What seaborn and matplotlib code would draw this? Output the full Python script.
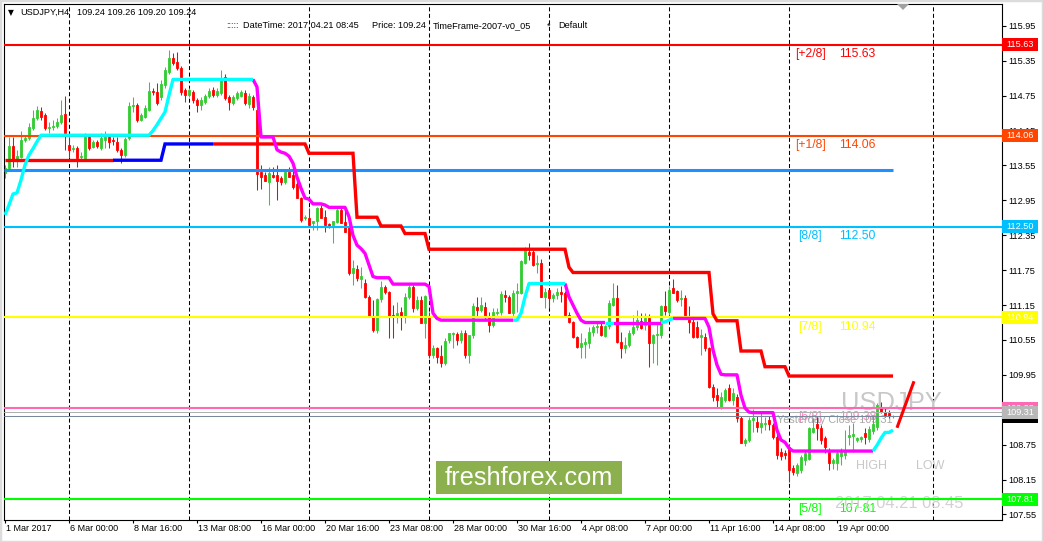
import numpy as np
import matplotlib
matplotlib.use("Agg")
import matplotlib.pyplot as plt
import seaborn as sns
from matplotlib.patches import Rectangle, Polygon
from matplotlib.transforms import blended_transform_factory, ScaledTranslation

# ---------------- data ----------------
first_bar = -16  # bar index of 1 Mar 2017 08:00 (bar 0 = 6 Mar 00:00, H4)

opens = [
    113.42, 113.51, 113.88, 113.64, 113.70, 113.99, 114.02, 114.19, 114.37, 114.49,
    114.42, 114.19, 114.21, 114.23, 114.30, 114.43, 113.90, 113.83, 113.85, 113.70,
    113.68, 114.04, 113.87, 113.95, 113.85, 113.99, 114.04, 113.99, 113.95, 113.82,
    113.73, 114.02, 114.57, 114.59, 114.33, 114.38, 114.50, 114.83, 114.81, 114.73,
    114.93, 115.16, 115.40, 115.33, 115.23, 114.85, 114.76, 114.81, 114.68, 114.59,
    114.64, 114.74, 114.85, 114.76, 114.80, 115.07, 114.73, 114.62, 114.71, 114.74,
    114.80, 114.61, 114.73, 114.50, 113.44, 113.39, 113.26, 113.39, 113.39, 113.33,
    113.26, 113.44, 113.39, 113.23, 112.99, 112.65, 112.65, 112.56, 112.60, 112.82,
    112.66, 112.54, 112.53, 112.58, 112.78, 112.58, 112.49, 111.70, 111.77, 111.60,
    111.53, 111.29, 110.94, 110.72, 111.25, 111.46, 111.37, 110.98, 110.94, 111.03,
    110.94, 111.29, 111.46, 111.10, 111.24, 110.84, 110.94, 110.29, 110.41, 110.27,
    110.15, 110.55, 110.65, 110.65, 110.55, 110.67, 110.29, 110.63, 111.12, 111.06,
    111.12, 110.96, 110.81, 111.01, 111.03, 111.32, 111.29, 111.01, 111.36, 111.36,
    111.87, 112.06, 112.06, 111.85, 111.87, 111.29, 111.41, 111.27, 111.32, 111.37,
    111.36, 110.98, 110.86, 110.60, 110.43, 110.48, 110.50, 110.69, 110.77, 110.79,
    110.62, 110.79, 111.15, 111.27, 110.51, 110.41, 110.46, 110.67, 110.77, 110.87,
    110.81, 110.92, 110.50, 110.63, 110.63, 111.13, 111.03, 111.44, 111.39, 111.25,
    111.27, 110.92, 110.86, 110.77, 110.60, 110.60, 110.41, 109.74, 109.60, 109.40,
    109.52, 109.72, 109.52, 109.57, 109.21, 108.78, 108.83, 109.17, 109.14, 109.05,
    109.10, 109.17, 109.08, 108.88, 108.62, 108.60, 108.71, 108.35, 108.26, 108.31,
    108.48, 108.51, 108.97, 109.10, 109.03, 108.86, 108.62, 108.43, 108.43, 108.55,
    108.57, 108.88, 108.90, 108.83, 108.84, 108.95, 108.84, 108.98, 109.05, 109.40,
    109.31, 109.29, 109.24,
]
highs = [
    113.56, 114.04, 114.04, 113.82, 114.14, 114.07, 114.28, 114.50, 114.57, 114.56,
    114.45, 114.30, 114.33, 114.37, 114.68, 114.74, 114.04, 113.90, 113.88, 113.78,
    114.11, 114.09, 113.99, 113.99, 114.11, 114.14, 114.09, 114.04, 114.04, 113.85,
    114.04, 114.64, 114.73, 114.62, 114.45, 114.59, 114.99, 114.88, 114.97, 115.02,
    115.24, 115.54, 115.48, 115.50, 115.26, 114.88, 114.88, 114.85, 114.71, 114.73,
    114.78, 114.88, 114.90, 114.88, 115.19, 115.12, 114.76, 114.76, 114.83, 114.85,
    114.85, 114.80, 114.76, 114.54, 113.56, 113.44, 113.52, 113.52, 113.56, 113.37,
    113.47, 113.52, 113.52, 113.28, 113.00, 112.70, 112.82, 112.60, 112.84, 112.87,
    112.78, 112.56, 112.58, 112.85, 112.82, 112.78, 112.53, 111.92, 111.84, 111.80,
    111.60, 111.32, 111.24, 111.27, 111.56, 111.50, 111.40, 111.15, 111.20, 111.12,
    111.36, 111.50, 111.50, 111.30, 111.30, 111.32, 111.03, 110.46, 110.43, 110.46,
    110.58, 110.67, 110.69, 110.69, 110.72, 110.72, 110.63, 111.18, 111.29, 111.29,
    111.20, 111.03, 111.10, 111.10, 111.40, 111.41, 111.32, 111.41, 111.53, 111.92,
    112.15, 112.22, 112.10, 112.01, 111.95, 111.44, 111.41, 111.35, 111.44, 111.48,
    111.40, 111.03, 110.87, 110.62, 110.67, 110.58, 110.77, 110.81, 110.87, 110.87,
    110.81, 111.24, 111.53, 111.50, 110.69, 110.60, 110.72, 110.98, 111.06, 111.01,
    111.01, 111.00, 110.65, 110.86, 111.15, 111.40, 111.48, 111.60, 111.41, 111.41,
    111.32, 111.13, 110.92, 110.87, 110.74, 110.67, 110.43, 109.80, 109.72, 109.65,
    109.72, 109.80, 109.72, 109.62, 109.24, 108.86, 109.22, 109.36, 109.24, 109.29,
    109.22, 109.24, 109.12, 108.95, 108.70, 108.66, 108.76, 108.40, 108.43, 108.57,
    108.66, 109.05, 109.20, 109.22, 109.08, 108.90, 108.70, 108.52, 108.66, 108.70,
    109.00, 109.08, 109.12, 108.88, 108.90, 109.03, 109.07, 109.24, 109.46, 109.48,
    109.40, 109.34, 109.26,
]
lows = [
    113.33, 113.47, 113.52, 113.52, 113.68, 113.95, 113.99, 114.16, 114.33, 114.33,
    114.16, 114.11, 114.16, 114.19, 114.26, 113.82, 113.70, 113.78, 113.52, 113.64,
    113.66, 113.82, 113.85, 113.85, 113.82, 113.85, 113.85, 113.90, 113.78, 113.59,
    113.70, 113.99, 114.47, 114.30, 114.31, 114.37, 114.49, 114.76, 114.59, 114.68,
    114.88, 115.12, 115.28, 115.19, 114.76, 114.64, 114.73, 114.62, 114.47, 114.50,
    114.61, 114.71, 114.73, 114.73, 114.76, 114.68, 114.50, 114.59, 114.68, 114.73,
    114.59, 114.54, 114.50, 113.13, 113.14, 113.28, 112.87, 113.33, 112.96, 113.21,
    113.23, 113.35, 113.14, 112.99, 112.58, 112.61, 112.53, 112.44, 112.44, 112.65,
    112.40, 112.47, 112.22, 112.56, 112.56, 112.40, 111.67, 111.50, 111.56, 111.44,
    111.27, 110.94, 110.69, 110.67, 111.20, 111.34, 110.58, 110.58, 110.84, 110.72,
    110.84, 111.25, 111.03, 111.06, 110.84, 110.58, 110.24, 110.24, 110.15, 110.08,
    110.12, 110.50, 110.41, 110.46, 110.50, 110.24, 110.15, 110.58, 110.94, 111.03,
    110.87, 110.69, 110.77, 110.98, 110.98, 111.20, 111.01, 110.96, 111.03, 111.34,
    111.85, 111.92, 111.82, 111.70, 111.29, 111.10, 111.10, 111.20, 111.25, 111.20,
    110.96, 110.84, 110.58, 110.41, 110.24, 110.24, 110.41, 110.62, 110.67, 110.62,
    110.60, 110.74, 111.13, 110.50, 110.24, 110.32, 110.43, 110.63, 110.72, 110.74,
    110.72, 110.08, 110.15, 110.12, 110.58, 110.98, 110.98, 111.36, 111.20, 111.13,
    110.92, 110.67, 110.58, 110.58, 110.29, 110.36, 109.72, 109.50, 109.40, 109.36,
    109.48, 109.50, 109.43, 109.14, 108.78, 108.72, 108.80, 108.97, 108.97, 108.95,
    109.00, 109.00, 108.84, 108.50, 108.48, 108.50, 108.10, 108.22, 108.21, 108.26,
    108.40, 108.48, 108.95, 108.83, 108.76, 108.60, 108.31, 108.33, 108.31, 108.40,
    108.50, 108.74, 108.62, 108.80, 108.80, 108.76, 108.80, 108.93, 109.00, 109.29,
    109.22, 109.20, 109.20,
]
closes = [
    113.51, 113.88, 113.64, 113.71, 113.99, 114.02, 114.21, 114.37, 114.50, 114.38,
    114.19, 114.21, 114.23, 114.30, 114.42, 114.07, 113.82, 113.85, 113.68, 113.71,
    114.04, 113.85, 113.95, 113.88, 114.02, 114.04, 113.95, 113.97, 113.82, 113.73,
    114.00, 114.57, 114.59, 114.33, 114.42, 114.54, 114.83, 114.81, 114.62, 114.95,
    115.19, 115.40, 115.31, 115.23, 114.81, 114.76, 114.85, 114.68, 114.59, 114.68,
    114.74, 114.83, 114.76, 114.83, 115.05, 114.71, 114.64, 114.73, 114.80, 114.81,
    114.62, 114.74, 114.56, 113.40, 113.35, 113.28, 113.42, 113.35, 113.28, 113.26,
    113.44, 113.35, 113.18, 112.99, 112.61, 112.66, 112.53, 112.60, 112.82, 112.65,
    112.53, 112.49, 112.60, 112.78, 112.56, 112.40, 111.70, 111.79, 111.61, 111.65,
    111.29, 110.94, 110.72, 111.25, 111.46, 111.37, 110.94, 110.94, 111.01, 110.94,
    111.29, 111.46, 111.10, 111.24, 110.84, 111.30, 110.29, 110.41, 110.25, 110.15,
    110.53, 110.67, 110.67, 110.55, 110.67, 110.29, 110.63, 111.13, 111.06, 111.15,
    110.94, 110.81, 111.03, 111.03, 111.34, 111.29, 111.01, 111.36, 111.39, 111.91,
    112.10, 112.01, 111.84, 111.87, 111.29, 111.37, 111.27, 111.32, 111.37, 111.34,
    110.98, 110.86, 110.60, 110.43, 110.50, 110.51, 110.69, 110.77, 110.79, 110.63,
    110.79, 111.18, 111.27, 110.51, 110.41, 110.46, 110.67, 110.77, 110.90, 110.75,
    110.92, 110.50, 110.63, 110.65, 111.13, 111.04, 111.41, 111.36, 111.24, 111.27,
    110.92, 110.86, 110.60, 110.60, 110.63, 110.41, 109.74, 109.57, 109.52, 109.57,
    109.69, 109.52, 109.64, 109.21, 108.78, 108.83, 109.17, 109.21, 109.05, 109.12,
    109.12, 109.10, 108.88, 108.57, 108.55, 108.57, 108.31, 108.28, 108.40, 108.53,
    108.60, 109.03, 109.03, 109.03, 108.83, 108.71, 108.43, 108.48, 108.60, 108.62,
    108.66, 108.91, 108.93, 108.86, 108.88, 108.88, 109.02, 109.10, 109.43, 109.31,
    109.26, 109.24, 109.24,
]

# upper trailing line (step levels and the bar where each level starts)
upper_step_bars = [-16, 24, 60, 72, 78, 84, 90, 125, 126, 161, 162, 168, 174, 180]
upper_step_levels = [113.64, 113.92, 113.76, 112.66, 112.51, 112.38, 112.11,
                     111.80, 111.71, 111.00, 110.88, 110.36, 110.09, 109.93]
upper_blue_span = (11, 36)

# lower trailing line, one value per bar
lower_line = [
    112.70, 112.87, 113.06, 113.08, 113.30, 113.56, 113.73, 113.84, 113.96,
    114.07, 114.07, 114.07, 114.07, 114.07, 114.07, 114.07, 114.07, 114.07, 114.07,
    114.07, 114.07, 114.07, 114.07, 114.07, 114.07, 114.07, 114.07, 114.07, 114.07,
    114.07, 114.07, 114.07, 114.07, 114.07, 114.07, 114.07, 114.07,
    114.15, 114.25, 114.36, 114.47, 114.76,
    115.03, 115.03, 115.03, 115.03, 115.03, 115.03, 115.03, 115.03, 115.03, 115.03,
    115.03, 115.03, 115.03, 115.03, 115.03, 115.03, 115.03, 115.03, 115.03, 115.03,
    115.03,
    114.90,
    114.04, 114.04, 114.04, 114.04,
    113.82, 113.78, 113.76, 113.71, 113.59, 113.35, 113.16, 112.99, 112.97,
    112.89, 112.89, 112.89,
    112.87,
    112.83, 112.83, 112.83, 112.83, 112.83,
    112.67, 112.35, 112.18, 112.12, 112.04, 111.84, 111.64,
    111.62, 111.62, 111.62, 111.62,
    111.51, 111.51, 111.51, 111.51, 111.51, 111.51, 111.51, 111.51, 111.51,
    111.47, 111.01, 110.92,
    110.89, 110.89, 110.89, 110.89, 110.89, 110.89, 110.89, 110.89, 110.89, 110.89,
    110.89, 110.89, 110.89, 110.89, 110.89, 110.89, 110.89, 110.89, 110.89, 110.89,
    111.01, 111.29,
    111.52, 111.52, 111.52, 111.52, 111.52, 111.52, 111.52, 111.52, 111.52, 111.52,
    111.29, 111.15, 111.01, 110.89,
    110.85, 110.85, 110.85, 110.85, 110.85, 110.85, 110.85, 110.85, 110.85, 110.85,
    110.85, 110.85, 110.85, 110.85, 110.85, 110.85, 110.85, 110.85, 110.85,
    110.85, 110.86, 110.89,
    110.92, 110.92, 110.92, 110.92, 110.92, 110.92, 110.92, 110.92, 110.92,
    110.77, 110.38, 110.12, 109.96,
    109.95, 109.95, 109.95, 109.95,
    109.60, 109.38, 109.31,
    109.30, 109.30, 109.30, 109.30, 109.30, 109.30,
    109.00, 108.83, 108.79, 108.69,
    108.64, 108.64, 108.64, 108.64, 108.64, 108.64, 108.64, 108.64, 108.64, 108.64,
    108.64, 108.64, 108.64, 108.64, 108.64, 108.64, 108.64, 108.64, 108.64, 108.64,
    108.64,
    108.74, 108.86, 108.96, 108.96, 109.00,
]
lower_cyan_spans = [(-16, 46), (111, 124), (134, 136), (148, 151), (201, 206)]
lower_magenta_spans = [(46, 111), (124, 134), (136, 148), (151, 201)]

murrey_levels = [115.63, 114.06, 112.50, 110.94, 109.38, 107.81]
murrey_tags = ["[+2/8]", "[+1/8]", "[8/8]", "[7/8]", "[6/8]", "[5/8]"]
murrey_values = ["115.63", "114.06", "112.50", "110.94", "109.38", "107.81"]
pivot_level = 113.48
yesterday_close = 109.31
bid_price = 109.24
separator_bars = [0, 30, 60, 90, 120, 150, 180, 216]
slash_bars = [207.0, 211.25]
slash_prices = [109.04, 109.84]

xtick_bars = [-16, 0, 16, 32, 48, 64, 80, 96, 112, 128, 144, 160, 176, 192]
xtick_labels = ["1 Mar 2017", "6 Mar 00:00", "8 Mar 16:00", "13 Mar 08:00",
                "16 Mar 00:00", "20 Mar 16:00", "23 Mar 08:00", "28 Mar 00:00",
                "30 Mar 16:00", "4 Apr 08:00", "7 Apr 00:00", "11 Apr 16:00",
                "14 Apr 08:00", "19 Apr 00:00"]
ytick_values = [107.55, 108.15, 108.75, 109.35, 109.95, 110.55, 111.15, 111.75,
                112.35, 112.95, 113.55, 114.15, 114.75, 115.35, 115.95]

# ---------------- style ----------------
sns.set_theme(style="white")
plt.rcParams['font.family'] = ['Liberation Sans', 'DejaVu Sans']
plt.rcParams['lines.scale_dashes'] = False

W, H = 1043, 542
fig = plt.figure(figsize=(W / 100, H / 100), dpi=100, facecolor='white')
ax = fig.add_axes([3.5 / W, 1 - 519.5 / H, 998 / W, 516 / H])
ax.set_facecolor('white')
ax.set_xlim(-16.375, 233.125)
ax.set_ylim(107.463, 116.335)

bars = np.arange(first_bar, first_bar + len(opens))
o = np.array(opens); h = np.array(highs); l = np.array(lows); c = np.array(closes)
BULL, BEAR = '#32CD32', '#FF0000'
cols = np.where(c >= o, BULL, BEAR)

# separators
for b in separator_bars:
    ax.axvline(b, color='black', lw=0.75, ls=(0, (2.9, 1.8)), zorder=1)

# candles
ax.vlines(bars, l, h, colors=cols, linewidth=0.75, zorder=2)
ax.bar(bars, np.abs(c - o), bottom=np.minimum(o, c), width=0.55, color=cols,
       edgecolor=cols, linewidth=0.6, zorder=2)

# murrey lines
for lev, col in zip(murrey_levels, ['#FF0000', '#FF4500', '#00BFFF', '#FFFF00', '#FF69B4', '#00FF00']):
    ax.axhline(lev, color=col, lw=1.5, zorder=3)
ax.axhline(yesterday_close, color='#B0B0B0', lw=0.75, zorder=3)
ax.axhline(bid_price, color='#778899', lw=0.75, zorder=3)
ax.hlines(pivot_level, first_bar - 0.3, bars[-1], color='#1E90FF', lw=2.2, zorder=3)

# upper trailing line
idx = np.searchsorted(upper_step_bars, bars, side='right') - 1
upper = np.array(upper_step_levels)[idx]
def seg(x0, x1):
    return (bars >= x0) & (bars <= x1)
for (a, b_), col in [((first_bar, upper_blue_span[0]), '#FF0000'),
                     (upper_blue_span, '#0000FF'),
                     ((upper_blue_span[1], bars[-1]), '#FF0000')]:
    m = seg(a, b_)
    sns.lineplot(x=bars[m], y=upper[m], ax=ax, color=col, linewidth=2.4,
                 estimator=None, sort=False, legend=False, zorder=4,
                 solid_joinstyle='miter', solid_capstyle='butt')

# lower trailing line
low = np.array(lower_line)
for spans, col in [(lower_magenta_spans, '#FF00FF'), (lower_cyan_spans, '#00FFFF')]:
    for a, b_ in spans:
        m = seg(a, b_)
        sns.lineplot(x=bars[m], y=low[m], ax=ax, color=col, linewidth=2.4,
                     estimator=None, sort=False, legend=False, zorder=4,
                     solid_joinstyle='round', solid_capstyle='butt')

# projection slash
ax.plot(slash_bars, slash_prices, color='#FF0000', lw=2.2, zorder=5, solid_capstyle='butt')

# murrey labels
tag_cols = ['#FF0000', '#FF4500', '#00BFFF', '#FFFF00', '#FF80C0', '#00FF00']
for lev, tag, val, col in zip(murrey_levels, murrey_tags, murrey_values, tag_cols):
    ax.annotate(tag, (185.25, lev), xytext=(0, -2.5), textcoords='offset points',
                ha='center', va='top', fontsize=8.7, color=col, zorder=1.5)
    ax.annotate(val, (192.5, lev), xytext=(0, -2.5), textcoords='offset points',
                ha='left', va='top', fontsize=8.7, color=col, zorder=1.5)

# big symbol texts
ax.text(193.1, 109.35, "USDJPY", fontsize=18.4, color='#C8C8C8', ha='left',
        va='baseline', zorder=1.5)
ax.text(176.9, 109.12, "Yesterday Close 109.31", fontsize=7.8, color='#A8A8A8',
        ha='left', va='baseline', zorder=1.5)
ax.text(196.7, 108.33, "HIGH", fontsize=9, color='#C8C8C8', ha='left', va='baseline', zorder=1.5)
ax.text(211.7, 108.33, "LOW", fontsize=9, color='#C8C8C8', ha='left', va='baseline', zorder=1.5)
ax.text(191.5, 107.66, "2017.04.21 08:45", fontsize=11.9, color='#D2D2D2', ha='left',
        va='baseline', zorder=1.5)

# freshforex label
ax.add_patch(Rectangle((91.75, 107.90), 46.5, 0.57, fc='#8DB04E', ec='none', zorder=6))
ax.text(115.0, 108.185, "freshforex.com", fontsize=18.3, color='white', ha='center',
        va='center', zorder=7)

# axes styling
for sp in ax.spines.values():
    sp.set_color('black'); sp.set_linewidth(0.8); sp.set_visible(True)
ax.yaxis.tick_right()
ax.set_yticks(ytick_values)
ax.set_yticklabels([f"{v:.2f}" for v in ytick_values])
ax.tick_params(axis='y', direction='out', length=2.9, width=0.8, pad=1.8,
               labelsize=6.6, colors='black', right=True, left=False)
ax.set_xticks(xtick_bars)
ax.set_xticklabels(xtick_labels)
ax.tick_params(axis='x', direction='out', length=2.2, width=0.8, pad=1.2,
               labelsize=6.5, colors='black', bottom=True)
for lab in ax.get_xticklabels():
    lab.set_ha('left')
    lab.set_transform(lab.get_transform() + ScaledTranslation(1 / 100, 0, fig.dpi_scale_trans))
ax.grid(False)

# price boxes on the axis
trans_r = blended_transform_factory(ax.transAxes, ax.transData)
box_w = 36 / 998
box_h = 13 / 58.16
def price_box(price, text, bg, z, fg='white'):
    ax.add_patch(Rectangle((1 + 0.8 / 998, price - box_h / 2), box_w, box_h,
                           transform=trans_r, fc=bg, ec='none', clip_on=False, zorder=z))
    ax.text(1 + 4.5 / 998, price, text, transform=trans_r, ha='left', va='center',
            fontsize=6.6, color=fg, clip_on=False, zorder=z + 0.1)

price_box(115.63, "115.63", '#FF0000', 10)
price_box(114.06, "114.06", '#FF4500', 10)
price_box(112.50, "112.50", '#00BFFF', 10)
price_box(110.94, "110.94", '#FFFF00', 10)
price_box(107.81, "107.81", '#00FF00', 10)
price_box(109.38, "109.38", '#FF69B4', 10)
price_box(bid_price, "109.24", '#000000', 11)
price_box(yesterday_close, "109.31", '#B8B8B8', 12)

# header
def ftxt(x, y, s, **kw):
    fig.text(x / W, 1 - y / H, s, va='center', ha='left', **kw)
ftxt(8, 12.5, "\u25BC", fontsize=5.5, color='black', family=['DejaVu Sans'])
ftxt(20, 12.8, "USDJPY,H4", fontsize=6.6, color='black')
ftxt(77, 12.8, "109.24 109.26 109.20 109.24", fontsize=6.6, color='black')
ftxt(226, 26, ":::::", fontsize=6.6, color='#800080')
ftxt(243, 26, "DateTime: 2017.04.21 08:45", fontsize=6.6, color='black')
ftxt(372, 26, "Price: 109.24", fontsize=6.6, color='black')
ftxt(433, 26, "TimeFrame-2007-v0_05", fontsize=6.6, color='black')
ftxt(547, 26, "*", fontsize=6.6, color='black')
ftxt(558, 26, "Default", fontsize=6.6, color='black')

# chart shift marker and window border
fig.add_artist(Polygon([[897 / W, 1 - 4 / H], [909 / W, 1 - 4 / H], [903 / W, 1 - 10 / H]],
                       closed=True, transform=fig.transFigure, fc='#A0A0A0', ec='none'))
fig.add_artist(Rectangle((0, 0), 1, 1, transform=fig.transFigure, fill=False,
                         ec='#DCDCDC', lw=2.5))

fig.savefig("out.png", dpi=100, facecolor='white')
